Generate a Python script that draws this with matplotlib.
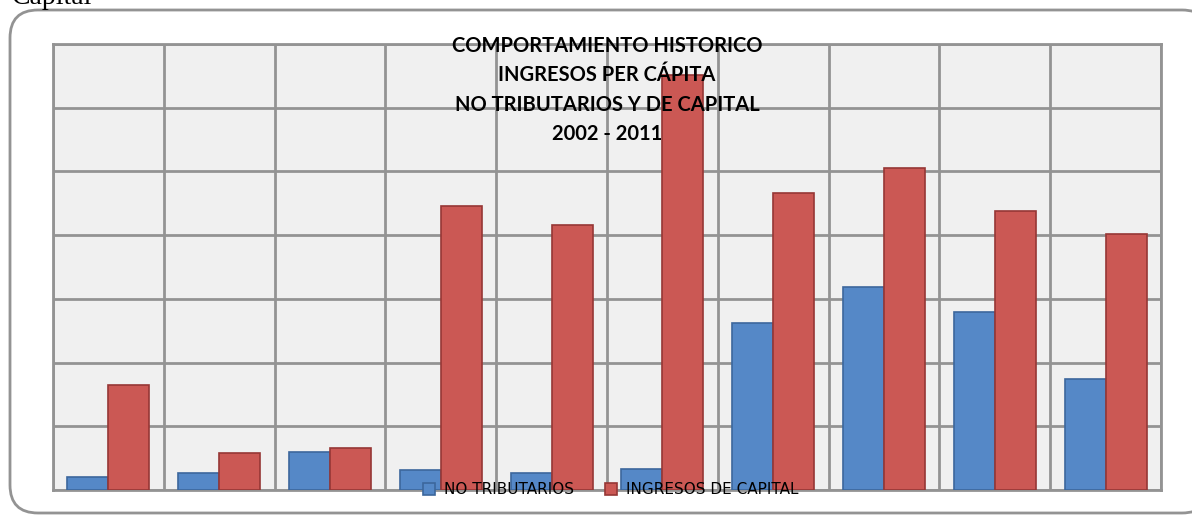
import numpy as np
import matplotlib.pyplot as plt
from matplotlib.patches import FancyBboxPatch

# Ingresos per cápita por año (unidades de la cuadrícula del gráfico)
anios = ['2002', '2003', '2004', '2005', '2006', '2007', '2008', '2009', '2010', '2011']
no_tributarios = [0.20, 0.27, 0.60, 0.32, 0.26, 0.33, 2.62, 3.18, 2.79, 1.74]
ingresos_capital = [1.65, 0.58, 0.66, 4.45, 4.16, 6.51, 4.66, 5.05, 4.38, 4.02]

titulo = 'COMPORTAMIENTO HISTORICO\nINGRESOS PER CÁPITA\nNO TRIBUTARIOS Y DE CAPITAL\n2002 - 2011'

gris = '#939393'
azul, azul_borde = '#5588c7', '#3c679c'
rojo, rojo_borde = '#cb5854', '#963735'

W, H = 1192, 518
fig = plt.figure(figsize=(W / 100, H / 100), dpi=100)

# fondo en píxeles con el marco redondeado
fondo = fig.add_axes([0, 0, 1, 1], zorder=-1)
fondo.set_xlim(0, W)
fondo.set_ylim(H, 0)
fondo.axis('off')
fondo.add_patch(FancyBboxPatch((10, 10), 1200, 503,
                               boxstyle='round,pad=0,rounding_size=28',
                               facecolor='white', edgecolor=gris, linewidth=2))
fondo.text(12, 4, 'Capital', family='Liberation Serif', fontsize=20,
           va='baseline', ha='left', color='black')

ax = fig.add_axes([53 / W, 28 / H, 1108 / W, 446 / H])
ax.set_facecolor('#f0f0f0')

x = np.arange(len(anios))
ancho = 0.37
ax.bar(x - ancho / 2, no_tributarios, ancho, color=azul, edgecolor=azul_borde,
       linewidth=1.2, label='NO TRIBUTARIOS', zorder=3)
ax.bar(x + ancho / 2, ingresos_capital, ancho, color=rojo, edgecolor=rojo_borde,
       linewidth=1.2, label='INGRESOS DE CAPITAL', zorder=3)

ax.set_xlim(-0.5, len(anios) - 0.5)
ax.set_ylim(0, 7)
ax.set_xticks(np.arange(len(anios) + 1) - 0.5)
ax.set_yticks(np.arange(0, 8))
ax.tick_params(length=0, labelbottom=False, labelleft=False)
ax.grid(True, color=gris, linewidth=2, zorder=1)
ax.set_axisbelow(True)
for s in ax.spines.values():
    s.set_color(gris)
    s.set_linewidth(2)

ax.text(0.5, 0.785, titulo, transform=ax.transAxes, ha='center', va='baseline',
        family='Lato', fontweight='bold', fontsize=14.5, linespacing=1.58,
        zorder=5)

leg = ax.legend(loc='center', bbox_to_anchor=((611 - 53) / 1108, 0.0),
                ncol=2, frameon=False, handlelength=0.8,
                handleheight=0.8, handletextpad=0.6, columnspacing=2.0,
                prop={'family': 'DejaVu Sans', 'size': 11})
leg.set_zorder(6)

fig.savefig('out.png', dpi=100)
